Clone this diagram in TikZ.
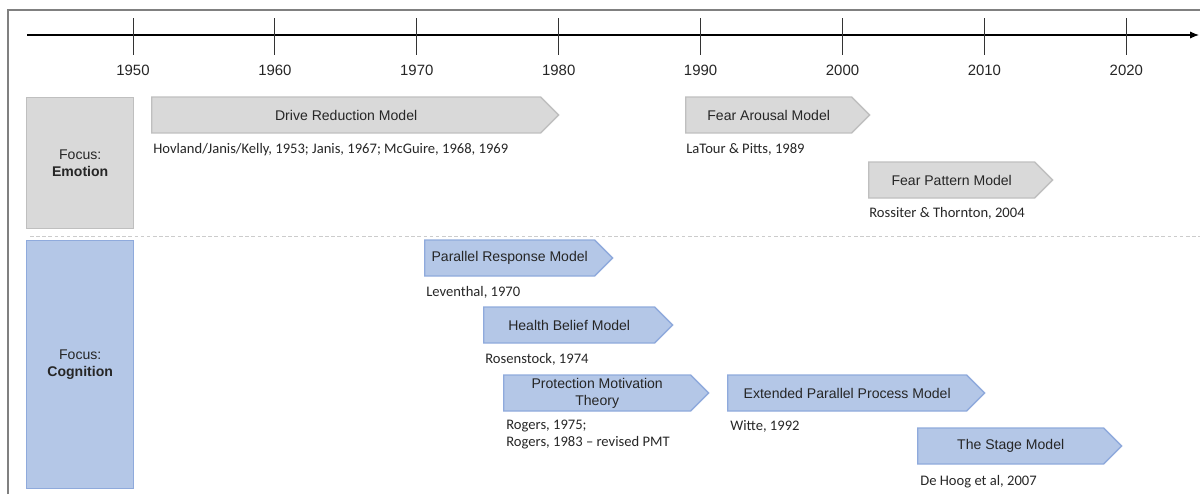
\documentclass[tikz,border=0pt]{standalone}
\usepackage{fontspec}
\setmainfont{Liberation Sans}
\newfontfamily\citefont{Carlito}
\usetikzlibrary{shapes.symbols,arrows.meta}
\definecolor{emofill}{HTML}{D9D9D9}
\definecolor{emoline}{HTML}{BFBFBF}
\definecolor{cogfill}{HTML}{B4C7E7}
\definecolor{cogline}{HTML}{8FAADC}
\definecolor{frameline}{HTML}{808080}
\definecolor{txt}{HTML}{262626}
\tikzset{
  focusbox/.style={draw, line width=0.8pt, inner sep=0pt, anchor=north west, align=center, text=txt,
    font=\fontsize{8}{10}\selectfont},
  phase/.style={shape=signal, signal to=east, signal pointer angle=90, draw, line width=0.8pt,
    anchor=west, minimum height=0.72cm, inner sep=0pt, align=center, text=txt,
    font=\fontsize{8}{9.6}\selectfont},
  emophase/.style={phase, fill=emofill, draw=emoline},
  cogphase/.style={phase, fill=cogfill, draw=cogline},
  cite/.style={anchor=base west, inner sep=0pt, text=txt, align=left,
    font=\citefont\fontsize{8.3}{9.6}\selectfont},
  year/.style={anchor=base, inner sep=0pt, text=txt, font=\fontsize{8.5}{10}\selectfont}
}
\begin{document}
\begin{tikzpicture}[x=0.02cm,y=-0.02cm]
\useasboundingbox (0,0) rectangle (1200,494);
% frame
\draw [line width=1.2pt,color=frameline] (8,494) -- (8,10) -- (1200,10);
% time axis
\coordinate (axstart) at (27,35);
\coordinate (axend) at (1199,35);
\draw [line width=0.6pt,-{Latex[length=5pt,width=4pt]}] (axstart) -- (axend);
\foreach \yr [count=\i from 0] in {1950,1960,...,2020}
{
  \draw [line width=0.5pt,color=black!80] (133+141.9*\i,18) -- (133+141.9*\i,55);
  \node[year] (y\yr) at (133+141.9*\i,75) {\yr};
}
% separator
\draw [line width=0.5pt,color=black!20,dash pattern=on 2pt off 1.5pt] (30,236) -- (1200,236);
% focus boxes
\node[focusbox, fill=emofill, draw=emoline, minimum width=2.14cm, minimum height=2.62cm] (emotion) at (26,97) {Focus:\\\textbf{Emotion}};
\node[focusbox, fill=cogfill, draw=cogline, minimum width=2.14cm, minimum height=4.96cm] (cognition) at (26,240) {Focus:\\\textbf{Cognition}};
% emotion models
\node[emophase, minimum width=8.14cm] (drive) at (151,115) {Drive Reduction Model};
\node[cite] (drivecite) at (153,153) {Hovland/Janis/Kelly, 1953; Janis, 1967; McGuire, 1968, 1969};
\node[emophase, minimum width=3.68cm] (arousal) at (685,115) {Fear Arousal Model};
\node[cite] (arousalcite) at (686,153) {LaTour \& Pitts, 1989};
\node[emophase, minimum width=3.68cm] (pattern) at (868,180) {Fear Pattern Model};
\node[cite] (patterncite) at (869,217) {Rossiter \& Thornton, 2004};
% cognition models
\node[cogphase, minimum width=3.76cm] (parallel) at (424,258) {Parallel Response Model};
\node[cite] (parallelcite) at (426,296) {Leventhal, 1970};
\node[cogphase, minimum width=3.78cm] (belief) at (483,325) {Health Belief Model};
\node[cite] (beliefcite) at (485,363) {Rosenstock, 1974};
\node[cogphase, minimum width=4.10cm] (pmt) at (503,393) {Protection Motivation\\Theory};
\node[cite] (pmtcite) at (506,446) {Rogers, 1975;\\Rogers, 1983 – revised PMT};
\node[cogphase, minimum width=5.14cm] (eppm) at (727,393) {Extended Parallel Process Model};
\node[cite] (eppmcite) at (730,430) {Witte, 1992};
\node[cogphase, minimum width=4.08cm] (stage) at (917,446) {The Stage Model};
\node[cite] (stagecite) at (920,485) {De Hoog et al, 2007};
\end{tikzpicture}
\end{document}
